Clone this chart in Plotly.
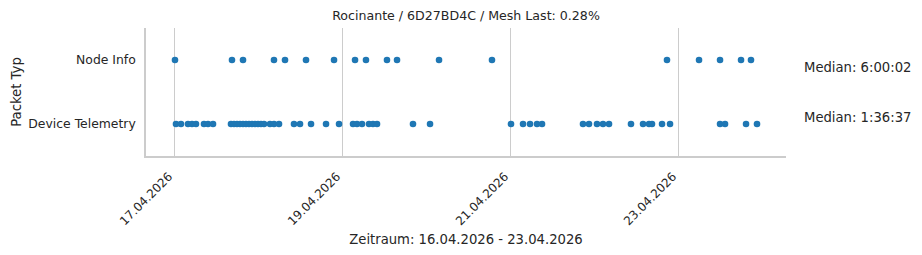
import plotly.graph_objects as go

title_text = "Rocinante / 6D27BD4C / Mesh Last: 0.28%"
categories = ["Device Telemetry", "Node Info"]

node_info_times = [
    "2026-04-17 00:17", "2026-04-17 16:34", "2026-04-17 19:43", "2026-04-18 04:34",
    "2026-04-18 07:43", "2026-04-18 13:43", "2026-04-18 21:43", "2026-04-19 03:43",
    "2026-04-19 06:51", "2026-04-19 12:51", "2026-04-19 15:43", "2026-04-20 03:43",
    "2026-04-20 18:51", "2026-04-22 20:51", "2026-04-23 06:00", "2026-04-23 12:00",
    "2026-04-23 18:00", "2026-04-23 20:51",
]

telemetry_times = [
    "2026-04-17 00:34", "2026-04-17 02:00", "2026-04-17 04:00", "2026-04-17 05:09",
    "2026-04-17 06:17", "2026-04-17 08:34", "2026-04-17 09:43", "2026-04-17 11:09",
    "2026-04-17 16:17", "2026-04-17 17:09", "2026-04-17 18:00", "2026-04-17 18:51",
    "2026-04-17 19:43", "2026-04-17 20:34", "2026-04-17 21:26", "2026-04-17 22:17",
    "2026-04-17 23:09", "2026-04-18 00:00", "2026-04-18 00:51", "2026-04-18 01:43",
    "2026-04-18 03:26", "2026-04-18 04:34", "2026-04-18 06:00", "2026-04-18 10:17",
    "2026-04-18 12:00", "2026-04-18 15:09", "2026-04-18 19:26", "2026-04-18 23:09",
    "2026-04-19 03:09", "2026-04-19 04:17", "2026-04-19 05:43", "2026-04-19 07:43",
    "2026-04-19 08:51", "2026-04-19 10:00", "2026-04-19 20:17", "2026-04-20 01:09",
    "2026-04-21 00:17", "2026-04-21 03:43", "2026-04-21 05:43", "2026-04-21 07:43",
    "2026-04-21 09:09", "2026-04-21 20:51", "2026-04-21 22:34", "2026-04-22 00:51",
    "2026-04-22 02:34", "2026-04-22 04:17", "2026-04-22 10:34", "2026-04-22 14:00",
    "2026-04-22 15:43", "2026-04-22 16:34", "2026-04-22 19:26", "2026-04-22 21:43",
    "2026-04-23 12:00", "2026-04-23 13:26", "2026-04-23 19:26", "2026-04-23 22:34",
]

median_labels = ["Median: 6:00:02", "Median: 1:36:37"]
tick_vals = ["2026-04-17", "2026-04-19", "2026-04-21", "2026-04-23"]
tick_text = ["17.04.2026", "19.04.2026", "21.04.2026", "23.04.2026"]
x_range = ["2026-04-16 16:00", "2026-04-24 06:51"]
x_title = "Zeitraum: 16.04.2026 - 23.04.2026"
y_title = "Packet Typ"

FONT = "DejaVu Sans"
TXT = "#262626"
BLUE = "#1f77b4"

fig = go.Figure()
fig.add_trace(go.Scatter(
    x=telemetry_times, y=["Device Telemetry"] * len(telemetry_times),
    mode="markers", marker=dict(color=BLUE, size=6.6, line=dict(width=0)),
    showlegend=False,
))
fig.add_trace(go.Scatter(
    x=node_info_times, y=["Node Info"] * len(node_info_times),
    mode="markers", marker=dict(color=BLUE, size=6.6, line=dict(width=0)),
    showlegend=False,
))

fig.update_layout(
    width=922, height=255,
    margin=dict(l=146, r=136, t=28, b=99, autoexpand=False),
    paper_bgcolor="white", plot_bgcolor="white",
    font=dict(family=FONT, color=TXT, size=12),
    title=dict(text=title_text, x=(146 + 640 / 2) / 922, xanchor="center",
               y=1 - 16 / 255, yanchor="middle", automargin=False,
               font=dict(size=12.6, family=FONT, color=TXT)),
    xaxis=dict(
        type="date", range=x_range, automargin=False,
        tickvals=tick_vals, ticktext=tick_text, tickangle=-45,
        showgrid=True, gridcolor="#cccccc", gridwidth=1,
        showline=True, linecolor="#cccccc", linewidth=1.5,
        zeroline=False, ticks="", tickfont=dict(size=12, color=TXT),
        ticklabelstandoff=7, ticklabelshift=-5,
        title=dict(text=x_title, font=dict(size=13.2, color=TXT), standoff=8),
    ),
    yaxis=dict(
        type="category", categoryorder="array", categoryarray=categories,
        range=[-0.5, 1.5], automargin=False,
        showgrid=False, showline=True, linecolor="#cccccc", linewidth=1.5,
        zeroline=False, ticks="", ticklen=0, tickfont=dict(size=12.4, color=TXT),
        ticklabelstandoff=6,
        title=dict(text=y_title, font=dict(size=13.2, color=TXT), standoff=4),
    ),
)

for label, yy in zip(median_labels, [(156 - 67) / 128, (156 - 117) / 128]):
    fig.add_annotation(text=label, xref="paper", yref="paper",
                       x=(802 - 146) / 640, y=yy, xanchor="left", yanchor="middle",
                       showarrow=False, font=dict(size=13.2, family=FONT, color=TXT))

fig.write_html("out.html")
